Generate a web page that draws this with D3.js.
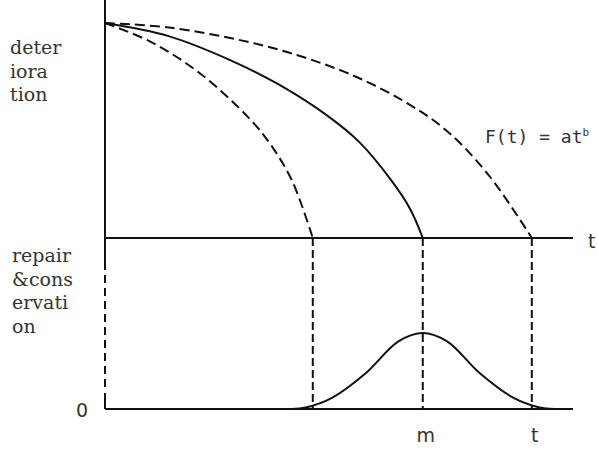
<!DOCTYPE html>
<html>
<head>
<meta charset="utf-8">
<script src="https://cdn.jsdelivr.net/npm/d3@7"></script>
<style>
    html, body { margin: 0; padding: 0; background: #ffffff; }
    svg { display: block; }
</style>
</head>
<body>
<div id="chart"></div>
<script>
// Deterioration curves: [time, deterioration level]
const earlyCurve = [[0, 100], [0.98, 91.2], [2.04, 76.4], [3.11, 55], [3.55, 43.1], [4.00, 26.5], [4.44, 0]];
const meanCurve = [[0, 100], [1.36, 93.9], [2.72, 82.3], [3.73, 71.2], [4.75, 56.9], [5.43, 44.7], [6.11, 27], [6.52, 13.5], [6.79, 0]];
const lateCurve = [[0, 100], [1.37, 97.9], [3.10, 91], [4.20, 84.4], [5.29, 75.7], [6.38, 63.7], [7.30, 49.9], [8.21, 28.9], [9.12, 0]];

// Repair & conservation distribution: [time, relative frequency]
const repairCurve = [[3.98, 0], [4.29, 0.02], [4.86, 0.15], [5.57, 0.47], [6.27, 0.89], [6.79, 1.0], [7.31, 0.89], [8.01, 0.47], [8.72, 0.15], [9.29, 0.02], [9.60, 0]];

// Axis labels
const topLabel = ["deter", "iora", "tion"];
const bottomLabel = ["repair", "&cons", "ervati", "on"];
const timeTicks = [{ t: 6.79, label: "m" }, { t: 9.12, label: "t" }];
const zeroLabel = "0";

const width = 598;
const height = 462;
const sansFont = "'DejaVu Sans', sans-serif";
const serifFont = "'DejaVu Serif', serif";

const svg = d3.select("#chart")
    .append("svg")
    .attr("width", width)
    .attr("height", height)
    .style("background", "#ffffff");

// Shared time axis for both panels, one y scale per panel
const x = d3.scaleLinear().domain([0, 10]).range([105, 573]);
const yTop = d3.scaleLinear().domain([0, 100]).range([238, 23]);
const yBottom = d3.scaleLinear().domain([0, 1]).range([409, 333]);

const ink = "#111111";

//Vertical axis, the lower part is broken in the print
svg.append("line")
    .attr("x1", x(0)).attr("x2", x(0))
    .attr("y1", 0).attr("y2", yTop(0) + 24)
    .attr("stroke", ink).attr("stroke-width", 2);
svg.append("line")
    .attr("x1", x(0)).attr("x2", x(0))
    .attr("y1", yTop(0) + 24).attr("y2", yBottom(0) - 18)
    .attr("stroke", ink).attr("stroke-width", 2)
    .attr("stroke-dasharray", "8,5");
svg.append("line")
    .attr("x1", x(0)).attr("x2", x(0))
    .attr("y1", yBottom(0) - 16).attr("y2", yBottom(0))
    .attr("stroke", ink).attr("stroke-width", 2);

//Horizontal axes of the two panels
[yTop(0), yBottom(0)].forEach(yy => {
    svg.append("line")
        .attr("x1", x(0)).attr("x2", x(10))
        .attr("y1", yy).attr("y2", yy)
        .attr("stroke", ink).attr("stroke-width", 2);
});

const topLine = d3.line()
    .x(d => x(d[0]))
    .y(d => yTop(d[1]))
    .curve(d3.curveCatmullRom.alpha(0.5));

const bottomLine = d3.line()
    .x(d => x(d[0]))
    .y(d => yBottom(d[1]))
    .curve(d3.curveCatmullRom.alpha(0.5));

//Deterioration curves, the two outer ones dashed
[
    { data: earlyCurve, dash: "10,5" },
    { data: meanCurve, dash: null },
    { data: lateCurve, dash: "10,5" }
].forEach(c => {
    svg.append("path")
        .attr("d", topLine(c.data))
        .attr("fill", "none")
        .attr("stroke", ink)
        .attr("stroke-width", 2)
        .attr("stroke-dasharray", c.dash);
});

//Dashed drop lines from the end of each curve down to the lower baseline
[earlyCurve, meanCurve, lateCurve].forEach(c => {
    const tEnd = c[c.length - 1][0];
    svg.append("line")
        .attr("x1", x(tEnd)).attr("x2", x(tEnd))
        .attr("y1", yTop(0)).attr("y2", yBottom(0))
        .attr("stroke", ink)
        .attr("stroke-width", 2)
        .attr("stroke-dasharray", "8,4");
});

//Repair distribution
svg.append("path")
    .attr("d", bottomLine(repairCurve))
    .attr("fill", "none")
    .attr("stroke", ink)
    .attr("stroke-width", 2);

//Left side labels
topLabel.forEach((s, i) => {
    svg.append("text")
        .attr("x", 10)
        .attr("y", 54 + i * 23.5)
        .attr("font-family", serifFont)
        .attr("font-size", 19)
        .attr("fill", "#333")
        .text(s);
});
bottomLabel.forEach((s, i) => {
    svg.append("text")
        .attr("x", 12)
        .attr("y", 262 + i * 23.7)
        .attr("font-family", serifFont)
        .attr("font-size", 19)
        .attr("fill", "#333")
        .text(s);
});

//Zero on the lower panel
svg.append("text")
    .attr("x", x(0) - 23)
    .attr("y", yBottom(0) + 8)
    .attr("text-anchor", "middle")
    .attr("font-family", sansFont)
    .attr("font-size", 19)
    .attr("fill", "#333")
    .text(zeroLabel);

//Time tick labels under the lower panel
svg.selectAll("text.tick")
    .data(timeTicks)
    .enter()
    .append("text")
    .attr("class", "tick")
    .attr("x", d => x(d.t) + 3)
    .attr("y", yBottom(0) + 33)
    .attr("text-anchor", "middle")
    .attr("font-family", sansFont)
    .attr("font-size", 19)
    .attr("fill", "#333")
    .text(d => d.label);

//Time label at the end of the upper axis
svg.append("text")
    .attr("x", 588)
    .attr("y", yTop(0) + 10)
    .attr("font-family", sansFont)
    .attr("font-size", 19)
    .attr("fill", "#333")
    .text("t");

//Formula near the right edge
const formula = svg.append("text")
    .attr("x", 485)
    .attr("y", 143)
    .attr("font-family", "'DejaVu Sans Mono', monospace")
    .attr("font-size", 18)
    .attr("fill", "#333");
formula.append("tspan").text("F(t) = at");
formula.append("tspan")
    .attr("dy", -7)
    .attr("font-size", 11)
    .text("b");
</script>
</body>
</html>
